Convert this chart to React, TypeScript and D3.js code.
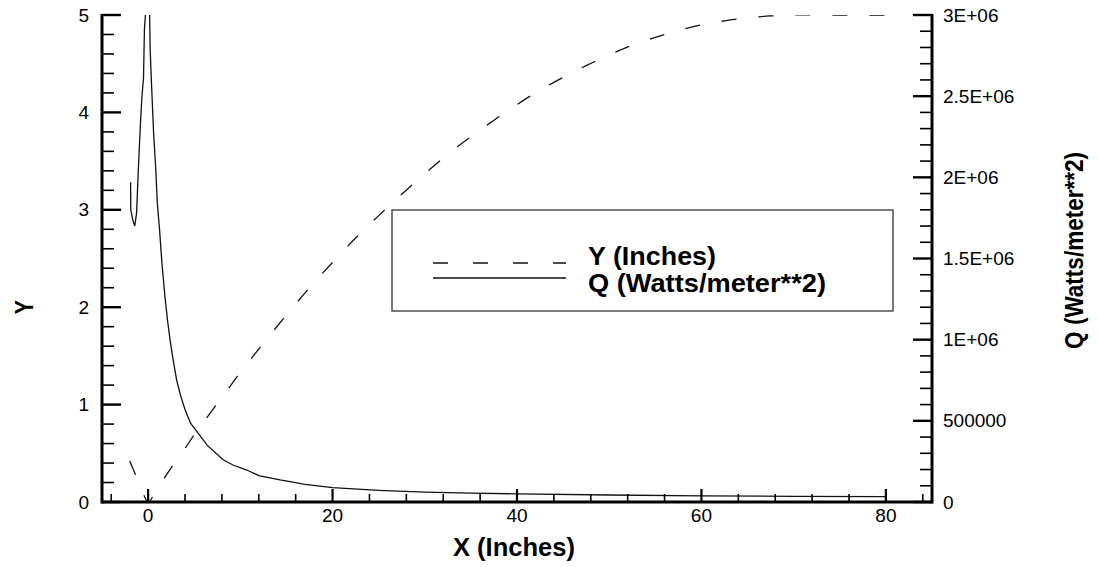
import * as d3 from 'd3';
import { useEffect, useRef } from 'react';

// Y (Inches) vs X (Inches) - dashed curve
const yCurveX = [-2.0, -1.5, -1.0, -0.5, 0, 1, 2, 3, 4, 5, 7.5, 10, 12.5, 15, 17.5, 20, 22.5, 25, 27.5, 30, 32.5, 35, 37.5, 40, 42.5, 45, 47.5, 50, 52.5, 55, 57.5, 60, 62.5, 65, 67.5, 70, 75, 80];
const yCurveY = [0.42, 0.31, 0.19, 0.08, 0.0, 0.14, 0.28, 0.42, 0.55, 0.69, 1.01, 1.33, 1.63, 1.92, 2.2, 2.46, 2.71, 2.94, 3.16, 3.37, 3.57, 3.75, 3.92, 4.08, 4.23, 4.36, 4.48, 4.59, 4.69, 4.77, 4.84, 4.9, 4.94, 4.97, 4.99, 5.0, 5.0, 5.0];

// Q (Watts/meter**2) vs X (Inches) - solid curve
const qCurveX = [-1.9, -1.88, -1.65, -1.45, -1.25, -1.05, -0.85, -0.68, -0.5, -0.4, -0.2, -0.05, 0.15, 0.22, 0.4, 0.6, 0.83, 1.0, 1.25, 1.5, 1.8, 2.1, 2.4, 2.7, 3.1, 3.5, 4.0, 4.6, 5.3, 6.4, 8.1, 9.2, 10.7, 12.0, 14.3, 15.4, 17, 20, 25, 30, 35, 40, 50, 60, 70, 80];
const qCurveQ = [1970000, 1800000, 1735000, 1700000, 1780000, 2060000, 2310000, 2490000, 2610000, 2910000, 3080000, 3250000, 3060000, 2790000, 2530000, 2270000, 2050000, 1840000, 1670000, 1470000, 1280000, 1120000, 990000, 880000, 750000, 660000, 570000, 485000, 433000, 350000, 262000, 228000, 197000, 163000, 136000, 125000, 108000, 88000, 72000, 61000, 55000, 50000, 43000, 38000, 35000, 33000];

const xMajor = [0, 20, 40, 60, 80];
const xMinor = [-4, 4, 8, 12, 16, 24, 28, 32, 36, 44, 48, 52, 56, 64, 68, 72, 76, 84];
const yMajor = [0, 1, 2, 3, 4, 5];
const qMajor = [0, 500000, 1000000, 1500000, 2000000, 2500000, 3000000];
const qLabels = ['0', '500000', '1E+06', '1.5E+06', '2E+06', '2.5E+06', '3E+06'];

const legendNames = ['Y (Inches)', 'Q (Watts/meter**2)'];

const App = () => {
    const svgRef = useRef<SVGSVGElement>(null);
    const width = 1099;
    const height = 567;
    const margin = { top: 15, bottom: 65, left: 102, right: 167 };

    useEffect(() => {
        const svg = d3.select(svgRef.current)
            .attr('width', width)
            .attr('height', height);
        svg.selectAll('*').remove();

        const x = d3.scaleLinear().domain([-5, 85]).range([margin.left, width - margin.right]);
        const y = d3.scaleLinear().domain([0, 5]).range([height - margin.bottom, margin.top]);
        const q = d3.scaleLinear().domain([0, 3000000]).range([height - margin.bottom, margin.top]);
        const x0 = x.range()[0], x1 = x.range()[1];
        const yb = y.range()[0], yt = y.range()[1];
        const font = 'Liberation Sans, Arial, Helvetica, sans-serif';

        svg.append('rect').attr('width', width).attr('height', height).attr('fill', 'white');

        svg.append('clipPath').attr('id', 'plotclip')
            .append('rect')
            .attr('x', x0).attr('y', yt)
            .attr('width', x1 - x0).attr('height', yb - yt);

        // curves
        const yPts: [number, number][] = yCurveX.map((d, i) => [d, yCurveY[i]]);
        const qPts: [number, number][] = qCurveX.map((d, i) => [d, qCurveQ[i]]);
        const yLine = d3.line<[number, number]>().x(d => x(d[0])).y(d => y(d[1])).curve(d3.curveCatmullRom);
        const qLine = d3.line<[number, number]>().x(d => x(d[0])).y(d => q(d[1])).curve(d3.curveLinear);

        const plot = svg.append('g').attr('clip-path', 'url(#plotclip)');
        plot.append('path')
            .attr('d', yLine(yPts))
            .attr('fill', 'none')
            .attr('stroke', '#111')
            .attr('stroke-width', 1.3)
            .attr('stroke-dasharray', '15 22');
        plot.append('path')
            .attr('d', qLine(qPts))
            .attr('fill', 'none')
            .attr('stroke', '#111')
            .attr('stroke-width', 1.3);

        // legend
        const lx = 392, ly = 210, lw = 501, lh = 101;
        svg.append('rect')
            .attr('x', lx).attr('y', ly).attr('width', lw).attr('height', lh)
            .attr('fill', 'white').attr('stroke', '#333').attr('stroke-width', 1.3);
        const legendY = [263, 278];
        const legendTextY = [265, 292];
        const legendTextLen = [128, 238];
        legendNames.forEach((name, i) => {
            svg.append('line')
                .attr('x1', 433).attr('x2', 566)
                .attr('y1', legendY[i]).attr('y2', legendY[i])
                .attr('stroke', '#111').attr('stroke-width', 1.3)
                .attr('stroke-dasharray', i === 0 ? '15 25' : null);
            svg.append('text')
                .attr('x', 588).attr('y', legendTextY[i])
                .attr('font-family', font).attr('font-weight', 'bold').attr('font-size', 25)
                .attr('textLength', legendTextLen[i]).attr('lengthAdjust', 'spacingAndGlyphs')
                .text(name);
        });

        // axes lines
        const axes = svg.append('g').attr('stroke', 'black');
        axes.append('line').attr('x1', x0).attr('x2', x0).attr('y1', yt - 1).attr('y2', yb + 1.5).attr('stroke-width', 3);
        axes.append('line').attr('x1', x1).attr('x2', x1).attr('y1', yt - 1).attr('y2', yb + 1.5).attr('stroke-width', 3);
        axes.append('line').attr('x1', x0).attr('x2', x1).attr('y1', yb).attr('y2', yb).attr('stroke-width', 3);

        // x ticks
        xMajor.forEach(v => {
            axes.append('line').attr('x1', x(v)).attr('x2', x(v)).attr('y1', yb).attr('y2', yb - 13).attr('stroke-width', 2.2);
        });
        xMinor.forEach(v => {
            axes.append('line').attr('x1', x(v)).attr('x2', x(v)).attr('y1', yb).attr('y2', yb - 8).attr('stroke-width', 1.6);
        });
        // left ticks
        d3.range(0, 5.001, 0.2).forEach(v => {
            const major = Math.abs(v - Math.round(v)) < 1e-6;
            axes.append('line').attr('x1', x0).attr('x2', x0 + (major ? 19 : 12))
                .attr('y1', y(v)).attr('y2', y(v)).attr('stroke-width', major ? 2.4 : 1.6);
        });
        // right ticks
        d3.range(0, 3000001, 100000).forEach(v => {
            const major = v % 500000 === 0;
            axes.append('line').attr('x1', x1).attr('x2', x1 - (major ? 19 : 12))
                .attr('y1', q(v)).attr('y2', q(v)).attr('stroke-width', major ? 2.4 : 1.6);
        });

        // tick labels
        svg.append('g').selectAll('text').data(xMajor).enter().append('text')
            .attr('x', d => x(d)).attr('y', yb + 20)
            .attr('text-anchor', 'middle')
            .attr('font-family', font).attr('font-size', 19)
            .text(d => d);
        svg.append('g').selectAll('text').data(yMajor).enter().append('text')
            .attr('x', 89).attr('y', d => y(d) + 6.5)
            .attr('text-anchor', 'end')
            .attr('font-family', font).attr('font-size', 19)
            .text(d => d);
        svg.append('g').selectAll('text').data(qMajor).enter().append('text')
            .attr('x', x1 + 11).attr('y', d => q(d) + 6.5)
            .attr('text-anchor', 'start')
            .attr('font-family', font).attr('font-size', 19)
            .text((d, i) => qLabels[i]);

        // axis titles
        svg.append('text')
            .attr('x', (x(0) + x(80)) / 2 - 3).attr('y', 556)
            .attr('text-anchor', 'middle')
            .attr('font-family', font).attr('font-weight', 'bold').attr('font-size', 25)
            .attr('textLength', 122).attr('lengthAdjust', 'spacingAndGlyphs')
            .text('X (Inches)');
        svg.append('text')
            .attr('transform', `translate(33,${y(2)}) rotate(-90)`)
            .attr('text-anchor', 'middle')
            .attr('font-family', font).attr('font-weight', 'bold').attr('font-size', 25)
            .attr('textLength', 14).attr('lengthAdjust', 'spacingAndGlyphs')
            .text('Y');
        svg.append('text')
            .attr('transform', `translate(1083,${q(1550000)}) rotate(-90)`)
            .attr('text-anchor', 'middle')
            .attr('font-family', font).attr('font-weight', 'bold').attr('font-size', 25)
            .attr('textLength', 197).attr('lengthAdjust', 'spacingAndGlyphs')
            .text('Q (Watts/meter**2)');
    }, []);

    return (
        <div style={{ position: 'absolute', left: 0, top: 0 }}>
            <svg ref={svgRef} style={{ display: 'block' }} />
        </div>
    );
};

export default App;
